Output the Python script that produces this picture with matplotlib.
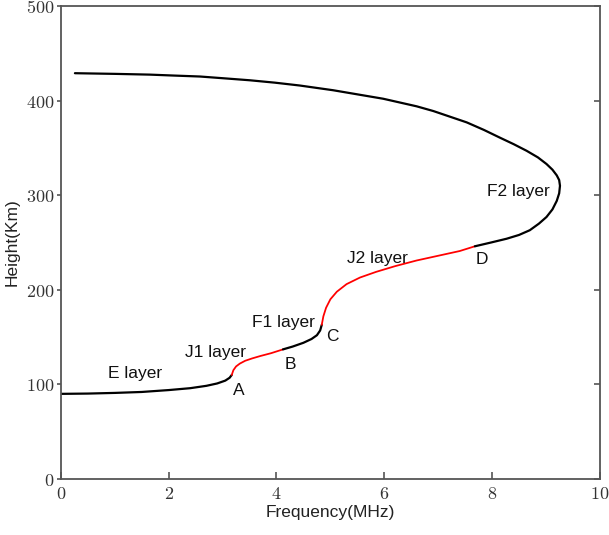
import matplotlib
matplotlib.use("Agg")
import matplotlib.pyplot as plt

plt.rcParams['mathtext.fontset'] = 'cm'

# E layer (black)
e_f = [0.0, 0.5, 1.0, 1.5, 2.0, 2.4, 2.7, 2.9, 3.05, 3.13, 3.17]
e_h = [90, 90.3, 91, 92, 94, 96, 98.5, 101, 104, 107, 110]
# J1 layer (red)
j1_f = [3.17, 3.2, 3.25, 3.32, 3.42, 3.55, 3.7, 3.9, 4.12]
j1_h = [110, 115, 119, 122, 125, 127.5, 130, 133, 137]
# F1 layer (black)
f1_f = [4.12, 4.3, 4.5, 4.65, 4.75, 4.81, 4.84]
f1_h = [137, 140, 144, 148, 152, 157, 163]
# J2 layer (red)
j2_f = [4.84, 4.87, 4.92, 5.0, 5.12, 5.3, 5.55, 5.85, 6.2, 6.6, 7.0, 7.4, 7.68]
j2_h = [163, 172, 181, 190, 198, 206, 213, 219, 225, 231, 236, 241, 246]
# F2 layer (black)
f2_f = [7.68, 7.98, 8.27, 8.5, 8.70, 8.87, 9.01, 9.12, 9.20, 9.245, 9.26, 9.245, 9.20,
        9.12, 9.01, 8.85, 8.64, 8.40, 8.14, 7.85, 7.53, 7.22, 6.91, 6.60, 6.29,
        5.98, 5.67, 5.36, 5.05, 4.74, 4.43, 3.97, 3.51, 3.05, 2.58, 2.1, 1.65, 1.0, 0.26]
f2_h = [246, 250, 254, 258, 263, 270, 277, 285, 294, 302, 310, 316, 321,
        327, 333, 340, 347, 354, 361, 369, 377, 383, 389, 394, 398,
        402, 405, 408, 411, 413.5, 416, 419, 421.5, 423.5, 425.5, 426.5, 427.5, 428.3, 429]

labels = ["E layer", "J1 layer", "A", "B", "F1 layer", "C", "J2 layer", "D", "F2 layer"]
label_f = [1.37, 2.86, 3.30, 4.25, 4.12, 5.03, 5.88, 7.81, 8.48]
label_h = [111, 134, 94, 121, 165, 151, 233, 232, 304]

xticks = [0, 2, 4, 6, 8, 10]
yticks = [0, 100, 200, 300, 400, 500]

fig = plt.figure(figsize=(6.09, 5.35), dpi=100)
ax = fig.add_axes([0.100, 0.1047, 0.885, 0.884])

lw = 1.6
ax.plot(e_f, e_h, color='black', lw=lw, solid_capstyle='round')
ax.plot(j1_f, j1_h, color='red', lw=lw * 0.8, solid_capstyle='round')
ax.plot(f1_f, f1_h, color='black', lw=lw, solid_capstyle='round')
ax.plot(j2_f, j2_h, color='red', lw=lw * 0.8, solid_capstyle='round')
ax.plot(f2_f, f2_h, color='black', lw=lw, solid_capstyle='round', solid_joinstyle='round')

for t, x, y in zip(labels, label_f, label_h):
    ax.text(x, y, t, ha='center', va='center', fontsize=12.5,
            family='Liberation Sans', color='#111111')

ax.set_xlim(0, 10)
ax.set_ylim(0, 500)
ax.set_xticks(xticks)
ax.set_yticks(yticks)
ax.set_xticklabels([f'${v}$' for v in xticks])
ax.set_yticklabels([f'${v}$' for v in yticks])

spine_color = '#555555'
for s in ax.spines.values():
    s.set_color(spine_color)
    s.set_linewidth(1.3)

ax.tick_params(axis='x', direction='in', length=5, width=1.2, color=spine_color,
               labelsize=13, pad=4, labelcolor='#333333')
ax.tick_params(axis='y', direction='out', length=3, width=1.2, color=spine_color,
               labelsize=13, pad=2, labelcolor='#333333', right=True)
# right ticks inward
for tk in ax.yaxis.get_major_ticks():
    tk.tick2line.set_marker(matplotlib.lines.TICKLEFT)
    tk.tick2line.set_markersize(4)

ax.set_xlabel('Frequency(MHz)', fontsize=12.5, family='Liberation Sans', labelpad=2, color='#222222')
ax.set_ylabel('Height(Km)', fontsize=12.5, family='Liberation Sans', labelpad=4, color='#222222')

fig.savefig('out.png', dpi=100)
